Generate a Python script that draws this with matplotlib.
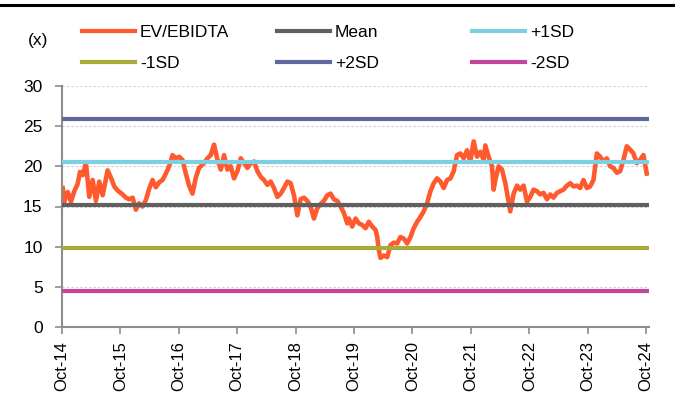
import matplotlib
matplotlib.use('Agg')
import matplotlib.pyplot as plt
from matplotlib.lines import Line2D

##-----------------------data--------------------------------##
# EV/EBIDTA (decimal year, multiple)
ev_years = [2014.762, 2014.789, 2014.847, 2014.904, 2014.960, 2015.018, 2015.058, 2015.104, 2015.160, 2015.217,
            2015.275, 2015.331, 2015.388, 2015.446, 2015.531, 2015.588, 2015.644, 2015.702, 2015.788, 2015.844,
            2015.900, 2015.959, 2016.015, 2016.071, 2016.129, 2016.186, 2016.242, 2016.300, 2016.357, 2016.413,
            2016.471, 2016.528, 2016.584, 2016.642, 2016.699, 2016.755, 2016.813, 2016.870, 2016.926, 2016.984,
            2017.041, 2017.097, 2017.182, 2017.241, 2017.297, 2017.353, 2017.412, 2017.468, 2017.524, 2017.582,
            2017.639, 2017.695, 2017.753, 2017.810, 2017.866, 2017.924, 2017.981, 2018.037, 2018.095, 2018.152,
            2018.208, 2018.266, 2018.323, 2018.379, 2018.437, 2018.494, 2018.550, 2018.608, 2018.665, 2018.721,
            2018.779, 2018.835, 2018.892, 2018.950, 2019.006, 2019.063, 2019.121, 2019.177, 2019.234, 2019.292,
            2019.348, 2019.405, 2019.463, 2019.519, 2019.576, 2019.634, 2019.661, 2019.719, 2019.776, 2019.832,
            2019.890, 2019.947, 2020.003, 2020.061, 2020.118, 2020.147, 2020.174, 2020.203, 2020.259, 2020.318,
            2020.374, 2020.430, 2020.488, 2020.545, 2020.601, 2020.659, 2020.716, 2020.772, 2020.830, 2020.887,
            2020.943, 2021.001, 2021.058, 2021.114, 2021.172, 2021.229, 2021.285, 2021.343, 2021.400, 2021.456,
            2021.514, 2021.571, 2021.627, 2021.685, 2021.741, 2021.798, 2021.856, 2021.912, 2021.969, 2021.998,
            2022.054, 2022.112, 2022.140, 2022.169, 2022.225, 2022.283, 2022.340, 2022.396, 2022.425, 2022.482,
            2022.540, 2022.596, 2022.653, 2022.711, 2022.767, 2022.824, 2022.882, 2022.938, 2022.994, 2023.053,
            2023.109, 2023.165, 2023.224, 2023.280, 2023.336, 2023.394, 2023.451, 2023.507, 2023.565, 2023.622,
            2023.678, 2023.736, 2023.793, 2023.849, 2023.907, 2023.964, 2024.020, 2024.078, 2024.135, 2024.191,
            2024.249, 2024.306, 2024.362, 2024.420, 2024.476, 2024.533, 2024.591, 2024.647, 2024.704, 2024.762]
ev_values = [17.3, 15.6, 16.8, 15.6, 16.9, 17.8, 19.3, 18.9, 20.4, 16.2,
             18.3, 15.7, 18.1, 16.4, 19.5, 18.6, 17.5, 17.0, 16.5, 16.1,
             15.9, 16.1, 14.6, 15.4, 15.0, 15.8, 17.2, 18.3, 17.4, 18.0,
             18.3, 19.1, 20.0, 21.4, 21.0, 21.2, 20.8, 19.1, 17.6, 16.6,
             18.6, 19.8, 20.4, 21.0, 21.4, 22.7, 20.8, 19.6, 21.4, 19.6,
             20.0, 18.5, 19.4, 21.0, 20.4, 19.8, 20.4, 20.6, 19.4, 18.7,
             18.3, 17.7, 18.1, 17.3, 16.2, 16.6, 17.3, 18.1, 17.9, 16.4,
             13.9, 15.9, 16.1, 15.7, 15.0, 13.5, 14.8, 15.3, 15.7, 16.4,
             16.6, 15.9, 15.7, 15.0, 14.2, 12.9, 13.5, 12.5, 13.5, 12.9,
             12.7, 12.3, 13.1, 12.5, 12.1, 11.2, 9.6, 8.6, 8.9, 8.7,
             10.2, 10.5, 10.4, 11.2, 11.0, 10.4, 11.2, 12.3, 13.1, 13.7,
             14.4, 15.4, 16.9, 17.9, 18.5, 18.1, 17.3, 18.3, 18.5, 19.4,
             21.4, 21.6, 21.0, 22.0, 20.6, 23.1, 21.2, 21.8, 20.8, 22.6,
             21.2, 20.0, 17.1, 18.3, 20.0, 19.6, 17.9, 15.6, 14.4, 16.6,
             17.6, 17.1, 17.6, 15.6, 16.2, 17.1, 16.9, 16.5, 16.7, 15.9,
             16.5, 16.1, 16.7, 16.9, 17.1, 17.6, 17.9, 17.5, 17.6, 17.3,
             18.3, 17.3, 17.5, 18.3, 21.6, 21.2, 20.6, 21.0, 20.0, 19.8,
             19.2, 19.4, 20.8, 22.5, 22.1, 21.6, 20.4, 20.8, 21.4, 19.1]

level_names = ['Mean', '+1SD', '-1SD', '+2SD', '-2SD']
level_values = [15.15, 20.55, 9.8, 25.9, 4.45]

tick_years = [2014.75 + k for k in range(11)]
tick_labels = ['Oct-14', 'Oct-15', 'Oct-16', 'Oct-17', 'Oct-18', 'Oct-19',
               'Oct-20', 'Oct-21', 'Oct-22', 'Oct-23', 'Oct-24']

##-----------------------style--------------------------------##
ev_color = '#FF5A2E'
level_colors = {'Mean': '#606060', '+1SD': '#7DCFE2', '-1SD': '#A8AB3B',
                '+2SD': '#5E6A9B', '-2SD': '#C1469C'}

size_h = 12.5
plt.rcParams['font.family'] = ['Liberation Sans']
plt.rcParams['font.size'] = size_h

##-----------------------draw--------------------------------##
fig = plt.figure(figsize=(6.76, 3.94), dpi=100)
ax = fig.add_axes([62 / 676, 1 - 327 / 394, 587 / 676, 241 / 394])

ev_line, = ax.plot(ev_years, ev_values, color=ev_color, lw=3.3, zorder=2,
                   solid_joinstyle='round', label='EV/EBIDTA')
handles = {'EV/EBIDTA': ev_line}
for name, val in zip(level_names, level_values):
    h = ax.axhline(val, color=level_colors[name], lw=3.0, zorder=3, label=name)
    handles[name] = h

ax.set_xlim(2014.75, 2024.80)
ax.set_ylim(0, 30)
ax.set_yticks([0, 5, 10, 15, 20, 25, 30])
ax.set_xticks(tick_years)
ax.set_xticklabels(tick_labels, rotation=90, fontsize=12)
ax.grid(axis='y', color='#cfcfcf', lw=0.8, ls=(0, (2, 2)), zorder=0)

for s in ['top', 'right']:
    ax.spines[s].set_visible(False)
for s in ['left', 'bottom']:
    ax.spines[s].set_color('#8c8c8c')
    ax.spines[s].set_linewidth(1.5)
ax.tick_params(axis='y', colors='#8c8c8c', labelcolor='black', length=5, width=1.2, pad=9)
ax.tick_params(axis='x', colors='#8c8c8c', labelcolor='black', length=5, width=1.2, pad=5)

# header rule and unit
fig.add_artist(Line2D([0, 673 / 676], [1 - 5 / 394, 1 - 5 / 394], color='black', lw=2.2,
                      transform=fig.transFigure))
fig.text(38 / 676, 1 - 40 / 394, '(x)', ha='center', va='center')

# legend: three columns, two rows
cols = [['EV/EBIDTA', '-1SD'], ['Mean', '+2SD'], ['+1SD', '-2SD']]
col_x = [82, 277, 472]
fs_px = size_h * 100 / 72
for labs, x0 in zip(cols, col_x):
    leg = fig.legend([handles[l] for l in labs], labs, loc='upper left',
                     bbox_to_anchor=(x0 / 676, 1 - 25 / 394), bbox_transform=fig.transFigure,
                     frameon=False, borderpad=0, borderaxespad=0,
                     handlelength=53 / fs_px, handletextpad=5 / fs_px,
                     labelspacing=0.92)
    for ln in leg.get_lines():
        ln.set_linewidth(3.0)

fig.savefig('out.png', dpi=100)
print('done')
